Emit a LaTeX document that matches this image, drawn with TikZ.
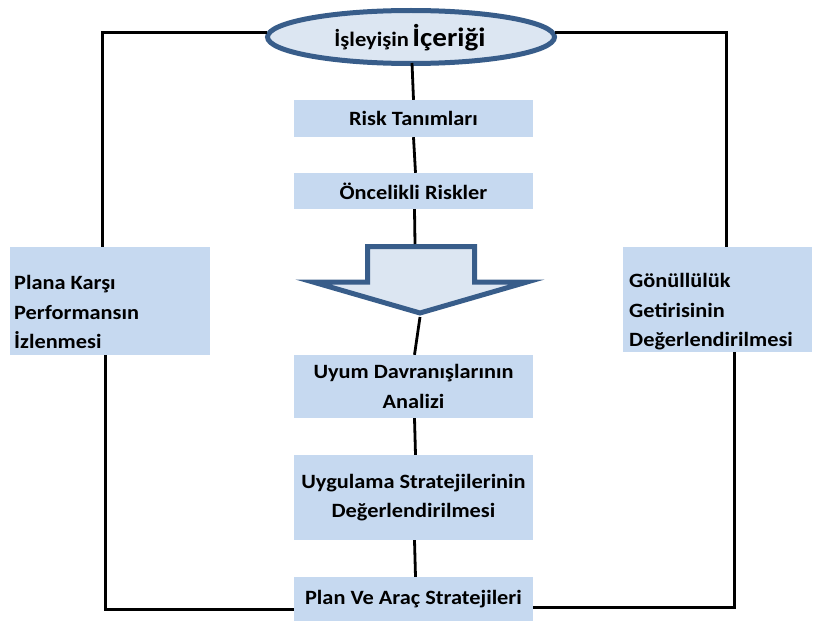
\documentclass[tikz,border=0pt]{standalone}
\usepackage{fontspec}
\newfontfamily\lab[FakeStretch=1.1]{Carlito}
\definecolor{boxblue}{RGB}{198,217,240}
\definecolor{palefill}{RGB}{220,230,242}
\definecolor{edgeblue}{RGB}{56,93,138}
\tikzset{
  lbl/.style={font=\lab\bfseries\fontsize{20.3}{29.5}\selectfont, text=black},
  cbox/.style={lbl, fill=boxblue, draw=none, minimum width=239pt, align=center, inner sep=0pt},
  sidebox/.style={fill=boxblue, draw=none, inner sep=0pt},
  conn/.style={draw=black, line width=2.8pt},
  frame/.style={draw=black, line width=3pt},
}
\begin{document}
\begin{tikzpicture}[x=1pt,y=-1pt]
\useasboundingbox (0,0) rectangle (814,626);
% title ellipse
\draw[edgeblue, fill=palefill, line width=5pt] (411,37) ellipse [x radius=143.5, y radius=26.5];
\node[lbl, inner sep=0pt] (ttl) at (410,38) {\fontsize{20.5}{21}\selectfont İşleyişin\,\fontsize{26.5}{28}\selectfont İçeriği};
\coordinate (ttlw) at (267,33);
\coordinate (ttle) at (555,33);
\coordinate (ttls) at (412,63);
% central boxes
\node[cbox, minimum height=37pt] (risk) at (413.5,118.5) {Risk Tanımları};
\node[cbox, minimum height=36pt] (onc) at (413.5,191) {Öncelikli Riskler};
\node[cbox, minimum height=63pt] (uyum) at (413.5,386.5) {Uyum Davranışlarının\\Analizi};
\node[cbox, minimum height=85pt] (uyg) at (413.5,497.5) {Uygulama Stratejilerinin\\Değerlendirilmesi};
\node[cbox, minimum height=44pt] (plan) at (413.5,599) {Plan Ve Araç Stratejileri};
% side boxes
\node[sidebox, minimum width=200pt, minimum height=108pt] (left) at (110,301) {};
\node[lbl, anchor=west, align=left, inner sep=0pt] (lefttxt) at (14,312) {Plana Karşı\\Performansın\\İzlenmesi};
\node[sidebox, minimum width=189pt, minimum height=105pt] (right) at (717.5,299.5) {};
\node[lbl, anchor=west, align=left, inner sep=0pt] (righttxt) at (629,312) {Gönüllülük\\Getirisinin\\Değerlendirilmesi};
% block arrow
\draw[edgeblue, fill=palefill, line width=5pt, line join=miter, miter limit=20]
  (367.5,246.5) -- (474.5,246.5) -- (474.5,282) -- (527,282) -- (420,313) -- (313,282) -- (367.5,282) -- cycle;
\coordinate (arrtop) at (415,244);
\coordinate (arrtip) at (420,317);
% connectors
\draw[conn] (ttls) -- (risk.north);
\draw[conn] (risk.south) -- ([xshift=2pt]onc.north);
\draw[conn] ([xshift=1pt]onc.south) -- (arrtop);
\draw[conn] (arrtip) -- ([xshift=1pt]uyum.north);
\draw[conn] ([xshift=1pt]uyum.south) -- ([xshift=2pt]uyg.north);
\draw[conn] ([xshift=1pt]uyg.south) -- ([xshift=2pt]plan.north);
% frame
\coordinate (tl) at (102,33);
\coordinate (tr) at (726,33);
\coordinate (bl) at (105,609);
\coordinate (br) at (734,607);
\draw[frame] (ttlw) -- (tl) -- (tl |- left.north);
\draw[frame] (ttle) -- (tr) -- (tr |- right.north);
\draw[frame] (bl |- left.south) -- (bl) -- (bl -| plan.west);
\draw[frame] (br |- right.south) -- (br) -- (br -| plan.east);
\end{tikzpicture}
\end{document}
